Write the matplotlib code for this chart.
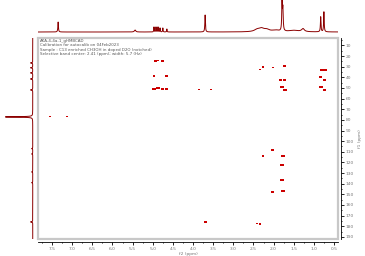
import numpy as np
import matplotlib
matplotlib.use('Agg')
import matplotlib.pyplot as plt
from matplotlib.patches import Rectangle
from matplotlib.ticker import MultipleLocator

# cross peaks: f2 (1H, ppm), f1 (13C, ppm), blob size
cross_h = [4.94, 4.87, 4.75, 4.97, 4.65, 4.97, 4.87, 4.75, 4.65, 3.85, 3.55,
           7.55, 7.13, 2.26, 2.34, 2.02, 1.72, 0.80, 0.73, 0.83, 0.73, 1.82,
           1.72, 1.79, 1.72, 0.83, 0.73, 2.02, 2.26, 1.77, 1.79, 1.79, 2.02,
           1.77, 3.70, 2.41, 2.34]
cross_c = [24.6, 24.0, 24.6, 38.7, 38.7, 50.9, 50.0, 50.9, 50.9, 51.8, 51.8,
           77.2, 77.2, 30.2, 33.0, 31.1, 29.3, 33.0, 33.0, 39.6, 42.4, 42.4,
           42.4, 49.0, 51.8, 49.0, 51.8, 108.2, 113.9, 113.9, 122.3, 136.4,
           147.7, 146.8, 175.9, 177.8, 177.8]
cross_s = [5, 4, 5, 4, 4, 6, 5, 4, 4, 1.8, 1.8,
           1.8, 1.8, 3.5, 1.8, 1.8, 4, 8.5, 8.5, 4, 4, 4,
           4, 8.5, 8.5, 8.5, 6, 3.5, 2, 9, 5, 5,
           3.5, 9, 5, 1.8, 2.5]

# 1H projection (top): ppm, height, half width
top_ppm = [7.35, 5.44, 4.97, 4.92, 4.87, 4.82, 4.75, 4.65, 3.70, 2.41, 2.30,
           2.17, 1.95, 1.79, 1.77, 1.50, 1.27, 0.83, 0.75]
top_hgt = [10, 2, 5, 5, 5, 4, 4, 3, 17, 2, 3, 2, 1.5, 30, 22, 1.5, 3, 15, 20]
top_wid = [0.008, 0.02, 0.006, 0.006, 0.006, 0.006, 0.006, 0.006, 0.008, 0.08,
           0.08, 0.08, 0.1, 0.008, 0.01, 0.15, 0.04, 0.008, 0.008]

# 13C projection (left): ppm, height
side_ppm = [26.4, 31.0, 35.8, 41.5, 51.8, 77.2, 107.0, 112.0, 128.9, 139.0,
            175.9]
side_hgt = [2, 2, 2, 2, 2, 25, 1, 1, 1, 1, 2]

header = ["AKA-4-4a-1_gHMBCAD",
          "Calibration for autocalib on 04Feb2023",
          "Sample : C13 enriched CH3OH in doped D2O (notched)",
          "Selective band center: 2.41 (ppm); width: 5.7 (Hz)"]

W, H = 365, 256
fig = plt.figure(figsize=(W / 100, H / 100), dpi=100)

def box(x0, y0, x1, y1):
    return [x0 / W, 1 - y1 / H, (x1 - x0) / W, (y1 - y0) / H]

line_col = '#8b0000'
peak_col = '#cc0000'
gray = '#777777'

# wide, flat blob for the cross peaks
blob = [(-1.4, -0.8), (1.4, -0.8), (1.4, 0.8), (-1.4, 0.8), (-1.4, -0.8)]

# main 2D panel
ax = fig.add_axes(box(38, 38, 338, 239))
ax.scatter(cross_h, cross_c, s=cross_s, c=peak_col, marker=blob, linewidths=0)
ax.set_xlim(7.85, 0.40)
ax.set_ylim(192, 3)

ax.add_patch(Rectangle((0, 0), 1, 1, transform=ax.transAxes, fill=False,
                       edgecolor='#c8c8c8', linewidth=1.6, clip_on=False))
for s in ['left', 'top']:
    ax.spines[s].set_visible(False)
for s in ['right', 'bottom']:
    ax.spines[s].set_position(('outward', 2.2))
    ax.spines[s].set_linewidth(0.6)
ax.yaxis.tick_right()
ax.yaxis.set_label_position('right')
ax.xaxis.set_major_locator(MultipleLocator(0.5))
ax.xaxis.set_minor_locator(MultipleLocator(0.25))
ax.yaxis.set_major_locator(MultipleLocator(10))
ax.yaxis.set_minor_locator(MultipleLocator(5))
ax.xaxis.set_major_formatter(lambda v, p: f'{v:.1f}')
ax.yaxis.set_major_formatter(lambda v, p: f'{v:.0f}')
ax.tick_params(which='major', length=2, width=0.6, labelsize=3.2,
               labelcolor=gray, pad=1.5)
ax.tick_params(which='minor', length=1, width=0.6)
ax.set_xlabel('f2 (ppm)', fontsize=3.2, color=gray, labelpad=0.5)
ax.set_ylabel('f1 (ppm)', fontsize=3.2, color=gray, labelpad=3)

for i, line in enumerate(header):
    fig.text(40 / W, 1 - (41 + 4.4 * i) / H, line, fontsize=2.9,
             color='#555555', va='center', ha='left')

# top 1H projection
axt = fig.add_axes(box(38, 0, 338, 33))
xs = np.linspace(7.85, 0.40, 6000)
ys = np.zeros_like(xs)
for p, h, w in zip(top_ppm, top_hgt, top_wid):
    ys += h / (1 + ((xs - p) / w) ** 2)
axt.plot(xs, ys, color=line_col, linewidth=0.7)
axt.set_xlim(7.85, 0.40)
axt.set_ylim(-1, 32)
axt.axis('off')

# left 13C projection
axl = fig.add_axes(box(0, 38, 36, 239))
cs = np.linspace(3, 192, 4000)
vs = np.zeros_like(cs)
for p, h in zip(side_ppm, side_hgt):
    vs += h / (1 + ((cs - p) / 0.25) ** 2)
axl.plot(vs, cs, color=line_col, linewidth=0.7)
axl.set_ylim(192, 3)
axl.set_xlim(30, -3)
axl.axis('off')

fig.savefig('out.png', dpi=100)
